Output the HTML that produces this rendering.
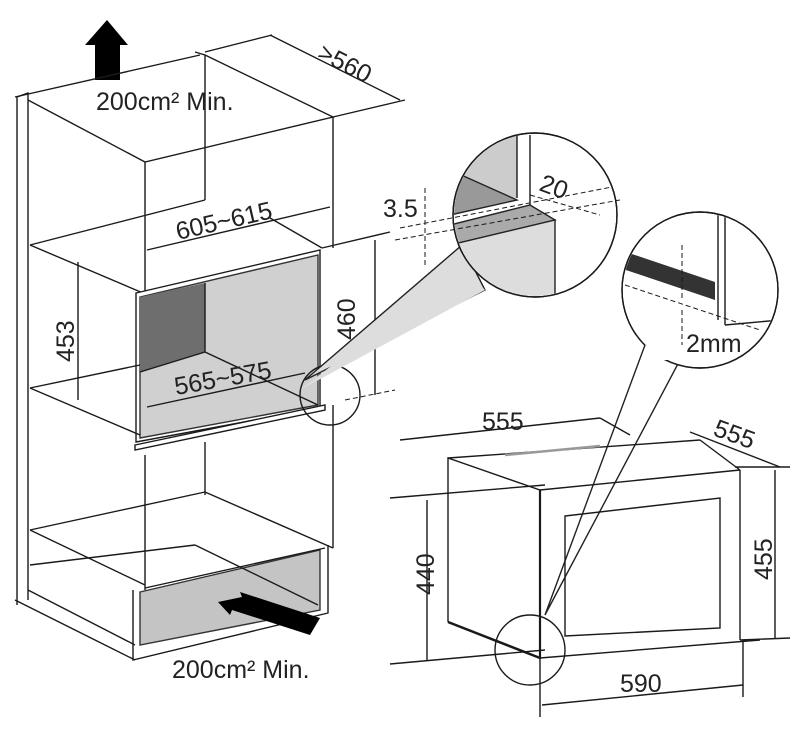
<!DOCTYPE html>
<html><head><style>html,body{margin:0;padding:0;background:#fff}svg{display:block}</style></head><body>
<svg width="800" height="738" viewBox="0 0 800 738" xmlns="http://www.w3.org/2000/svg" font-family="Liberation Sans, sans-serif" fill="none" stroke="#1a1a1a" stroke-width="1.4">
<!-- top arrow -->
<polygon points="107,20 128,45 120,45 120,80 95,80 95,45 85,45" fill="#000" stroke="none"/>
<!-- left cabinet -->
<polyline points="17,605 17,97 28,93 28,600"/>
<line x1="15" y1="97" x2="200" y2="55"/>
<polyline points="195,52 205,55 205,200"/>
<line x1="205" y1="52" x2="272" y2="35"/>
<polyline points="28,100 145,162 333,117 205,55"/>
<line x1="145" y1="162" x2="145" y2="292"/>
<line x1="333" y1="117" x2="333" y2="248"/>
<line x1="30" y1="245" x2="205" y2="200"/>
<line x1="30" y1="245" x2="143" y2="293"/>
<line x1="270" y1="218" x2="322" y2="248"/>
<line x1="322" y1="248" x2="390" y2="232"/>
<!-- >560 dimension -->
<line x1="270" y1="35" x2="400" y2="100"/>
<line x1="333" y1="117" x2="405" y2="100"/>
<text x="316" y="58" font-size="25" fill="#222" stroke="none" transform="rotate(27 316 58)">&gt;560</text>
<!-- 605~615 -->
<line x1="147" y1="250" x2="330" y2="207"/>
<text x="178" y="240" font-size="25" fill="#222" stroke="none" transform="rotate(-13 178 240)">605~615</text>
<!-- oven front -->
<polygon points="136,293 320,250 320,408 136,442" fill="#fff"/>
<polygon points="140,297 318,255 318,405 140,438" fill="#d0d0d0" stroke="#333"/>
<polygon points="140,297 205,283 205,352 140,372" fill="#6e6e6e" stroke="none"/>
<line x1="205" y1="283" x2="205" y2="352" />
<line x1="140" y1="372" x2="205" y2="352"/>
<line x1="205" y1="352" x2="318" y2="405"/>
<polygon points="135,445 325,405 325,410 135,450" fill="#fff"/>
<!-- 453 -->
<line x1="78" y1="262" x2="78" y2="400"/>
<text x="74" y="362" font-size="25" fill="#222" stroke="none" transform="rotate(-90 74 362)">453</text>
<!-- 460 -->
<line x1="375" y1="240" x2="375" y2="395"/>
<text x="355" y="340" font-size="25" fill="#222" stroke="none" transform="rotate(-90 355 340)">460</text>
<!-- 565~575 -->
<line x1="147" y1="407" x2="305" y2="373"/>
<text x="176" y="395" font-size="25" fill="#222" stroke="none" transform="rotate(-10 176 395)">565~575</text>
<line x1="30" y1="388" x2="140" y2="365"/>
<line x1="30" y1="388" x2="140" y2="435"/>
<!-- lower cabinet -->
<line x1="145" y1="455" x2="145" y2="590"/>
<line x1="205" y1="442" x2="205" y2="495"/>
<line x1="333" y1="405" x2="333" y2="548"/>
<line x1="30" y1="530" x2="205" y2="492"/>
<line x1="205" y1="492" x2="333" y2="548"/>
<line x1="30" y1="530" x2="145" y2="585"/>
<polygon points="140,592 320,550 320,610 140,645" fill="#c4c4c4" stroke="#333"/>
<line x1="145" y1="588" x2="325" y2="548"/>
<line x1="30" y1="565" x2="195" y2="545"/>
<line x1="195" y1="545" x2="318" y2="605"/>
<line x1="28" y1="590" x2="135" y2="645"/>
<line x1="15" y1="600" x2="135" y2="660"/>
<polyline points="133,590 133,660 328,613 328,545"/>
<polygon points="218,602 242,597 240,592 320,618 310,635 232,610 230,615" fill="#000" stroke="none"/>
<text x="172" y="678" font-size="25" fill="#222" stroke="none">200cm² Min.</text>
<text x="96" y="110" font-size="25" fill="#222" stroke="none">200cm² Min.</text>
<!-- zoom circle 1 -->
<circle cx="330" cy="395" r="30"/>
<polygon points="305,380 462,245 485,290" fill="#ddd" stroke="#222"/>
<circle cx="535" cy="215" r="82" fill="#fff"/>
<clipPath id="c1"><circle cx="535" cy="215" r="81"/></clipPath>
<g clip-path="url(#c1)">
<polygon points="450,135 517,135 517,198 450,215" fill="#ccc" stroke="none"/>
<polygon points="450,170 517,200 450,215" fill="#999" stroke="#222"/>
<polygon points="450,225 530,205 555,220 450,245" fill="#aaa" stroke="#222"/>
<polygon points="450,245 555,220 555,300 450,300" fill="#ddd" stroke="#222"/>
<line x1="517" y1="135" x2="517" y2="198"/>
<line x1="530" y1="135" x2="530" y2="205"/>
</g>
<circle cx="535" cy="215" r="82"/>
<polygon points="462,265 485,290 300,390" fill="#ddd" stroke="none"/>
<text x="383" y="217" font-size="25" fill="#222" stroke="none">3.5</text>
<text x="538" y="190" font-size="25" fill="#222" stroke="none" transform="rotate(20 538 190)">20</text>
<g stroke-dasharray="5,3" stroke-width="1">
<line x1="395" y1="240" x2="620" y2="200"/><line x1="400" y1="228" x2="612" y2="187"/>
<line x1="425" y1="188" x2="425" y2="265"/><line x1="530" y1="195" x2="600" y2="215"/>
<line x1="345" y1="400" x2="395" y2="390"/>
</g>
<!-- zoom circle 2 -->
<polygon points="545,615 645,345 680,360" fill="#fff" stroke="#222"/>
<circle cx="700" cy="290" r="78" fill="#fff"/>
<clipPath id="c2"><circle cx="700" cy="290" r="77"/></clipPath>
<g clip-path="url(#c2)">
<polygon points="620,250 715,282 715,300 620,268" fill="#333" stroke="none"/>
<line x1="718" y1="210" x2="718" y2="320"/><line x1="725" y1="210" x2="725" y2="325"/>
<line x1="725" y1="325" x2="780" y2="320"/>
<g stroke-dasharray="5,3" stroke-width="1"><line x1="625" y1="285" x2="760" y2="330"/><line x1="682" y1="245" x2="682" y2="300"/><line x1="682" y1="310" x2="682" y2="345"/></g>
</g>
<circle cx="700" cy="290" r="78"/>
<polygon points="645,345 680,360 650,360" fill="#fff" stroke="none"/>
<text x="686" y="352" font-size="25" fill="#222" stroke="none">2mm</text>
<!-- right oven -->
<polyline points="448,622 448,458 540,490 740,470"/>
<line x1="540" y1="490" x2="540" y2="658" stroke-width="2.2"/>
<line x1="448" y1="458" x2="700" y2="440"/>
<line x1="700" y1="440" x2="740" y2="470"/>
<line x1="740" y1="470" x2="740" y2="640"/>
<line x1="448" y1="622" x2="540" y2="658" stroke-width="2.5"/>
<line x1="540" y1="658" x2="760" y2="640"/>
<polygon points="565,516 720,498 720,628 565,636"/>
<line x1="505" y1="455" x2="600" y2="446" stroke="#999" stroke-width="2.5"/>
<circle cx="530" cy="650" r="35"/>
<line x1="390" y1="498" x2="545" y2="485"/>
<line x1="390" y1="664" x2="545" y2="650"/>
<line x1="427" y1="500" x2="427" y2="660"/>
<text x="434" y="595" font-size="25" fill="#222" stroke="none" transform="rotate(-90 434 595)">440</text>
<line x1="735" y1="467" x2="790" y2="467"/>
<line x1="740" y1="640" x2="790" y2="638"/>
<line x1="775" y1="470" x2="775" y2="638"/>
<text x="772" y="580" font-size="25" fill="#222" stroke="none" transform="rotate(-90 772 580)">455</text>
<line x1="540" y1="658" x2="540" y2="717"/>
<line x1="743" y1="640" x2="743" y2="697"/>
<line x1="542" y1="705" x2="743" y2="685"/>
<text x="620" y="692" font-size="25" fill="#222" stroke="none">590</text>
<line x1="400" y1="440" x2="600" y2="418"/>
<line x1="600" y1="418" x2="630" y2="435"/>
<text x="482" y="430" font-size="25" fill="#222" stroke="none">555</text>
<line x1="690" y1="432" x2="780" y2="467"/>
<text x="712" y="435" font-size="25" fill="#222" stroke="none" transform="rotate(20 712 435)">555</text>
</svg>
</body></html>
